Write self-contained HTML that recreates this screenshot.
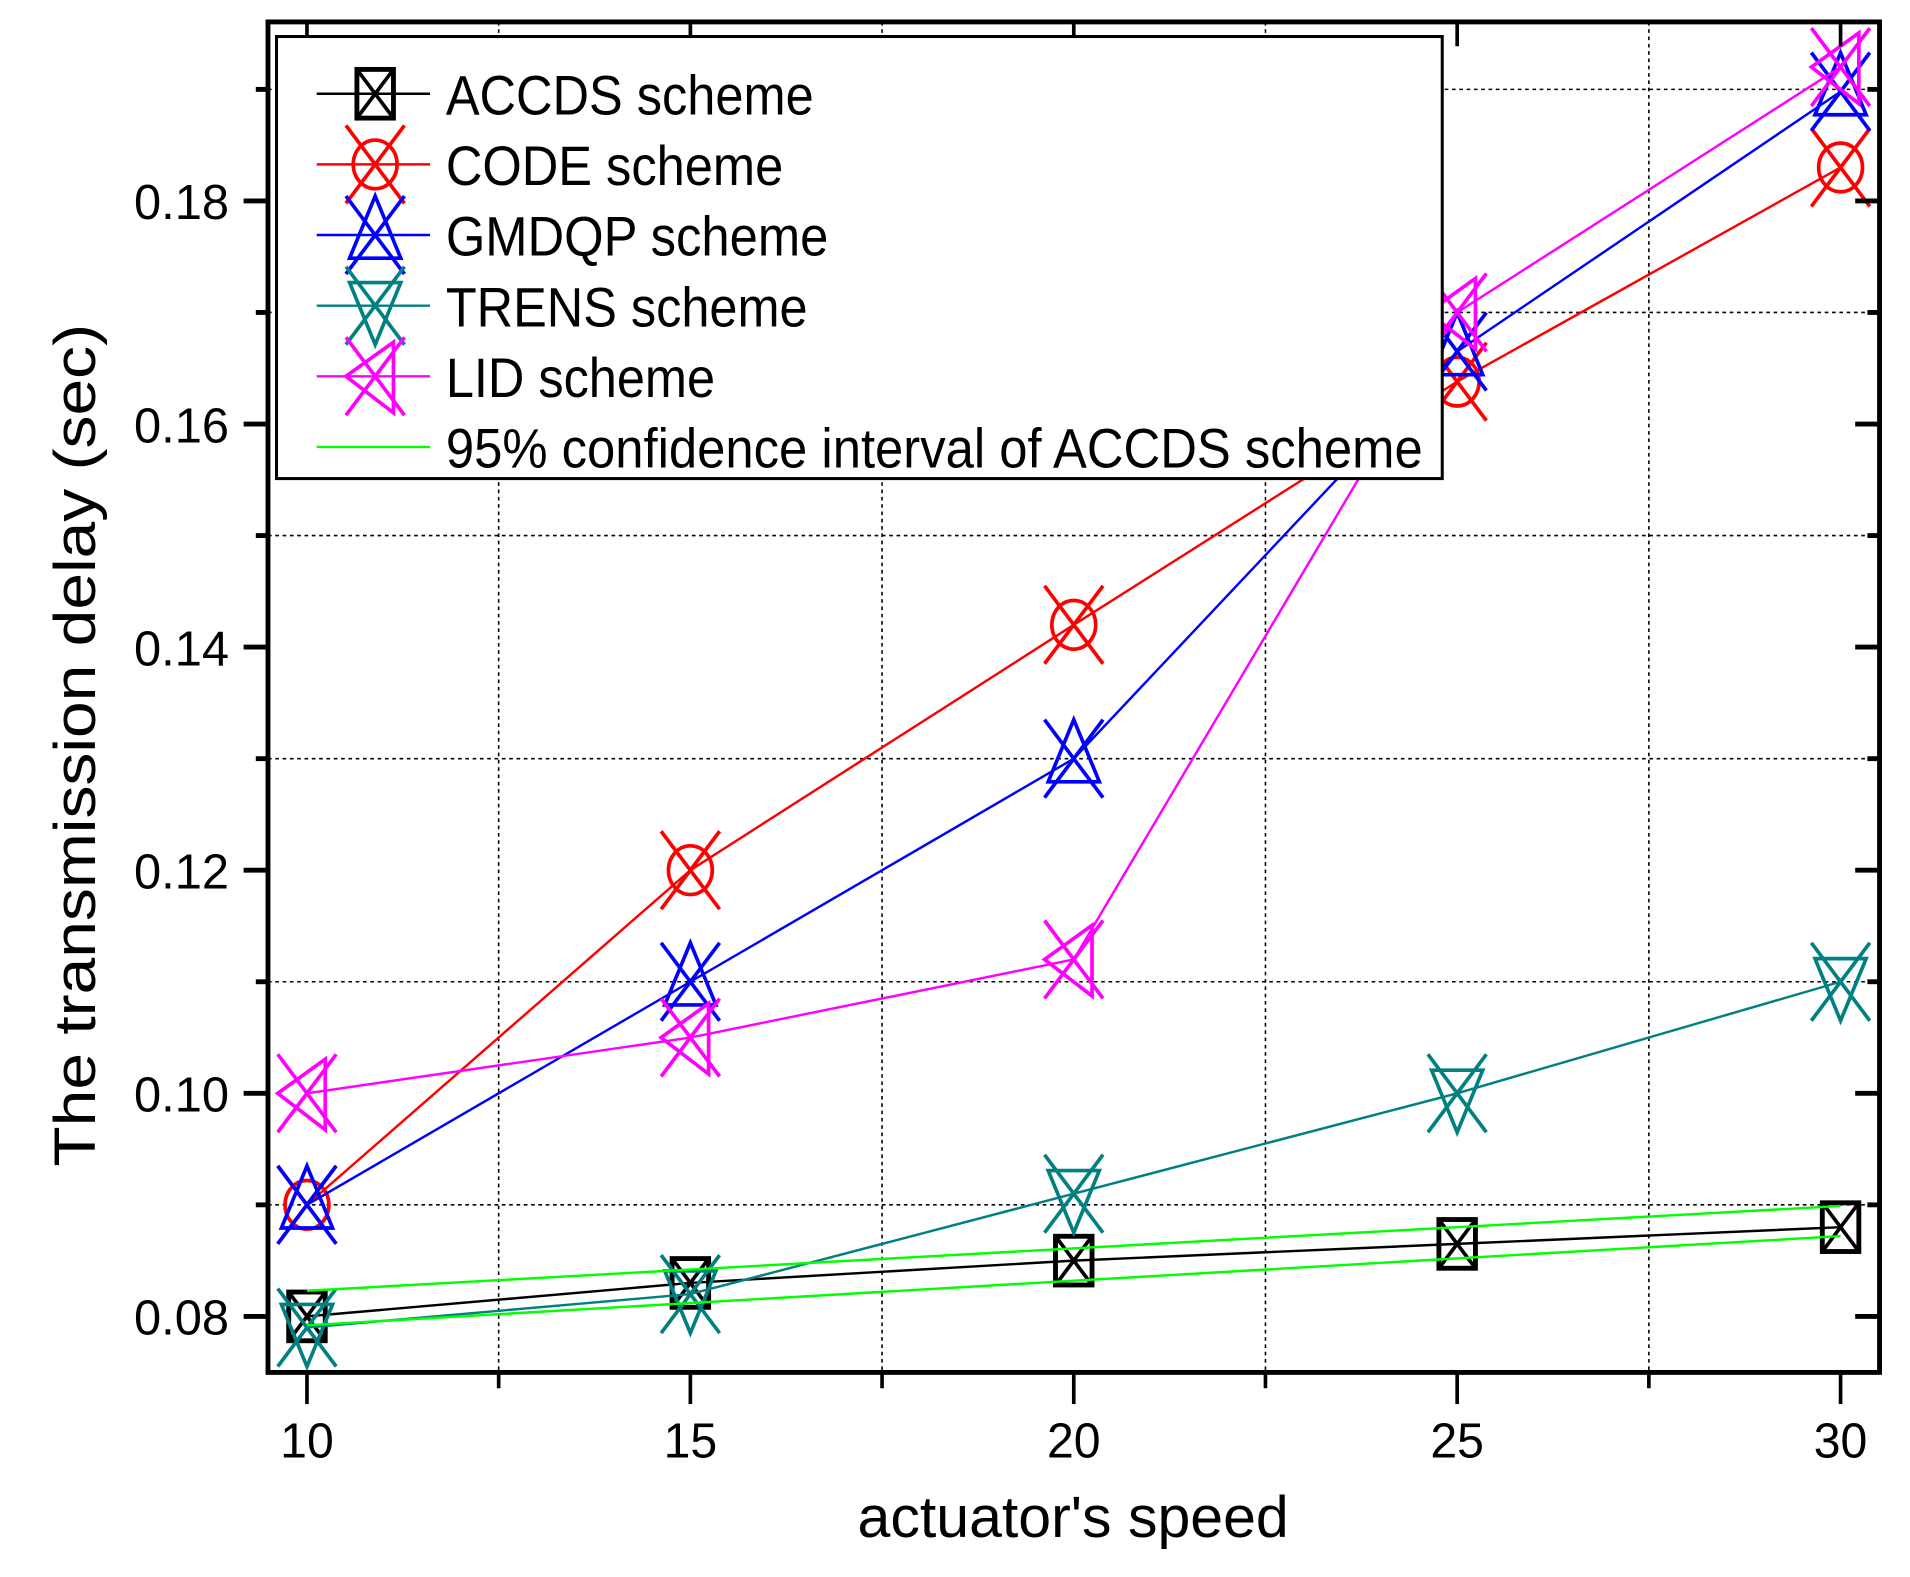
<!DOCTYPE html>
<html><head><meta charset="utf-8"><style>
html,body{margin:0;padding:0;background:#fff}
svg{display:block}
text{font-family:"Liberation Sans",Arial,sans-serif;fill:#000}
</style></head><body>
<svg id="chart" width="1910" height="1577" viewBox="0 0 1568 1295" preserveAspectRatio="none" xmlns="http://www.w3.org/2000/svg">
<g id="grid"></g>
<g id="series"></g>
<g id="axes"></g>
<g id="legend"></g>
</svg>
<script>
const xValues = [10, 15, 20, 25, 30];
const accdsValues = [0.080, 0.083, 0.085, 0.0865, 0.088];
const codeValues = [0.090, 0.120, 0.142, 0.1638, 0.183];
const gmdqpValues = [0.090, 0.110, 0.130, 0.1665, 0.1898];
const trensValues = [0.079, 0.082, 0.091, 0.100, 0.110];
const lidValues = [0.100, 0.105, 0.112, 0.170, 0.192];
const ciUpperValues = [0.0823, 0.0899];
const ciLowerValues = [0.0792, 0.0872];
const ciX = [10, 30];
const xTickLabels = ["10", "15", "20", "25", "30"];
const xMinorTicks = [12.5, 17.5, 22.5, 27.5];
const yTickValues = [0.08, 0.10, 0.12, 0.14, 0.16, 0.18];
const yTickLabels = ["0.08", "0.10", "0.12", "0.14", "0.16", "0.18"];
const yMinorTicks = [0.09, 0.11, 0.13, 0.15, 0.17, 0.19];
const legendLabels = ["ACCDS scheme", "CODE scheme", "GMDQP scheme", "TRENS scheme", "LID scheme", "95% confidence interval of ACCDS scheme"];

const NS = "http://www.w3.org/2000/svg";
const L = 220, R = 1543, T = 18, B = 1127;
function xs(v){ return 252 + (v - 10) * (1511 - 252) / 20; }
function ys(v){ return 1081 - (v - 0.08) * (1081 - 165) / 0.10; }
function mk(tag, attrs, parent){
  const e = document.createElementNS(NS, tag);
  for (const k in attrs) e.setAttribute(k, attrs[k]);
  parent.appendChild(e); return e;
}
const grid = document.getElementById('grid');
const series = document.getElementById('series');
const axes = document.getElementById('axes');
const legend = document.getElementById('legend');

// grid
xMinorTicks.forEach(v => {
  const g = mk('line', {x1: xs(v), x2: xs(v), y1: T, y2: B, stroke: '#000', 'stroke-width': 1.3, 'stroke-dasharray': '3,3'}, grid);
  
  
});
yMinorTicks.forEach(v => {
  const g = mk('line', {x1: L, x2: R, y1: ys(v), y2: ys(v), stroke: '#000', 'stroke-width': 1.3, 'stroke-dasharray': '3,3'}, grid);
  
  
});

function marker(type, cx, cy, color, parent){
  const g = mk('g', {fill: 'none', stroke: color, 'stroke-width': 3}, parent);
  
  
  if (type === 'square') {
    mk('rect', {x: cx-15, y: cy-20, width: 30, height: 40, 'stroke-width': 4}, g);
    mk('path', {d: `M${cx-15},${cy-20}L${cx+15},${cy+20}M${cx+15},${cy-20}L${cx-15},${cy+20}`}, g);
    return;
  }
  mk('path', {d: `M${cx-24},${cy-32}L${cx+24},${cy+32}M${cx+24},${cy-32}L${cx-24},${cy+32}`}, g);
  if (type === 'circle') { mk('ellipse', {cx: cx, cy: cy, rx: 18, ry: 20}, g); }
  if (type === 'up') mk('path', {d: `M${cx},${cy-32}L${cx+21},${cy+19}L${cx-21},${cy+19}Z`}, g);
  if (type === 'down') mk('path', {d: `M${cx},${cy+32}L${cx+21},${cy-19}L${cx-21},${cy-19}Z`}, g);
  if (type === 'left') mk('path', {d: `M${cx-24},${cy}L${cx+15},${cy-28}L${cx+15},${cy+30}Z`}, g);
}

const defs = [
  {name: 'accds', vals: accdsValues, color: '#000000', m: 'square'},
  {name: 'code', vals: codeValues, color: '#ff0000', m: 'circle'},
  {name: 'gmdqp', vals: gmdqpValues, color: '#0000ff', m: 'up'},
  {name: 'trens', vals: trensValues, color: '#008080', m: 'down'},
  {name: 'lid', vals: lidValues, color: '#ff00ff', m: 'left'}
];
defs.forEach(d => {
  const pts = xValues.map((x, i) => xs(x) + ',' + ys(d.vals[i])).join(' ');
  const pl = mk('polyline', {points: pts, fill: 'none', stroke: d.color, 'stroke-width': 2}, series);
  
  
  xValues.forEach((x, i) => marker(d.m, xs(x), ys(d.vals[i]), d.color, series));
});
[ciUpperValues, ciLowerValues].forEach((arr, j) => {
  const pts = ciX.map((x, i) => xs(x) + ',' + ys(arr[i])).join(' ');
  const pl = mk('polyline', {points: pts, fill: 'none', stroke: '#00ff00', 'stroke-width': 2}, series);
  
  
});

// frame
const fr = mk('rect', {x: L, y: T, width: R-L, height: B-T, fill: 'none', stroke: '#000', 'stroke-width': 4}, axes);


xValues.forEach((v, i) => {
  mk('line', {x1: xs(v), x2: xs(v), y1: B, y2: B+26, stroke: '#000', 'stroke-width': 3}, axes);
  mk('line', {x1: xs(v), x2: xs(v), y1: T, y2: T+20, stroke: '#000', 'stroke-width': 3}, axes);
  const t = mk('text', {x: xs(v), y: 1197, 'text-anchor': 'middle', 'font-size': 40, textLength: 44, lengthAdjust: 'spacingAndGlyphs'}, axes);
  t.textContent = xTickLabels[i];
  
  
});
xMinorTicks.forEach(v => {
  mk('line', {x1: xs(v), x2: xs(v), y1: B, y2: B+13, stroke: '#000', 'stroke-width': 3}, axes);
});
yTickValues.forEach((v, i) => {
  mk('line', {x1: L-20, x2: L, y1: ys(v), y2: ys(v), stroke: '#000', 'stroke-width': 4}, axes);
  mk('line', {x1: R-20, x2: R, y1: ys(v), y2: ys(v), stroke: '#000', 'stroke-width': 4}, axes);
  const t = mk('text', {x: 188, y: ys(v)+15, 'text-anchor': 'end', 'font-size': 40, textLength: 78, lengthAdjust: 'spacingAndGlyphs'}, axes);
  t.textContent = yTickLabels[i];
  
  
});
yMinorTicks.forEach(v => {
  mk('line', {x1: L-10, x2: L, y1: ys(v), y2: ys(v), stroke: '#000', 'stroke-width': 4}, axes);
  mk('line', {x1: R-10, x2: R, y1: ys(v), y2: ys(v), stroke: '#000', 'stroke-width': 4}, axes);
});
const xt = mk('text', {x: 881, y: 1262, 'text-anchor': 'middle', 'font-size': 48, textLength: 354, lengthAdjust: 'spacingAndGlyphs'}, axes);
xt.textContent = "actuator's speed";


const yt = mk('text', {x: 0, y: 0, 'text-anchor': 'middle', 'font-size': 48, textLength: 692, lengthAdjust: 'spacingAndGlyphs', transform: 'translate(78,612) rotate(-90)'}, axes);
yt.textContent = "The transmission delay (sec)";



// legend
const lb = mk('rect', {x: 227, y: 30, width: 957, height: 363, fill: '#fff', stroke: '#000', 'stroke-width': 2.5}, legend);


const legColors = ['#000000', '#ff0000', '#0000ff', '#008080', '#ff00ff', '#00ff00'];
const legMarkers = ['square', 'circle', 'up', 'down', 'left', null];
const legWidths = [302, 277, 314, 297, 221, 802];
legendLabels.forEach((lab, i) => {
  const y = 77 + i * 58;
  const g = mk('g', {}, legend);
  
  
  mk('line', {x1: 260, x2: 353, y1: y, y2: y, stroke: legColors[i], 'stroke-width': 2}, g);
  if (legMarkers[i]) marker(legMarkers[i], 308, y, legColors[i], g);
  const t = mk('text', {x: 366, y: y + 17, 'font-size': 46, textLength: legWidths[i], lengthAdjust: 'spacingAndGlyphs'}, g);
  t.textContent = lab;
});
</script>
</body></html>
